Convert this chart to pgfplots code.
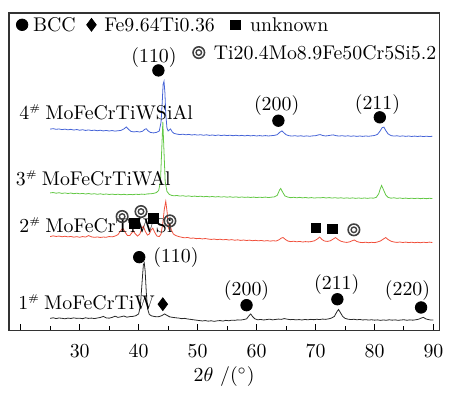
\documentclass[border=0pt]{standalone}
\usepackage{fontspec}
\usepackage{pgfplots}
\pgfplotsset{compat=1.18}
\definecolor{cblue}{RGB}{70,100,215}
\definecolor{cgreen}{RGB}{100,200,70}
\definecolor{cred}{RGB}{240,80,60}
\definecolor{cblack}{RGB}{40,40,40}
\newcommand\sh{\raisebox{0.95ex}{\fontsize{5}{6}\selectfont\#}\hspace{2.6pt}}
\begin{document}
\begin{tikzpicture}
\begin{axis}[
  scale only axis, width=217pt, height=160pt,
  xmin=18, xmax=91, ymin=0, ymax=320,
  xtick={30,40,...,90}, extra x ticks={20}, extra x tick labels={},
  minor xtick={25,35,...,85},
  ytick=\empty,
  xtick pos=left,
  tick align=inside,
  major tick length=3pt, minor tick length=2pt,
  axis line style={line width=0.7pt, black!80},
  every tick/.style={line width=0.5pt, black},
  xticklabel style={font=\normalsize, yshift=-3.5pt},
  xlabel={$2\theta$ /($^{\circ}$)},
  xlabel style={yshift=2pt},
  clip=false,
  every node/.style={inner sep=0pt},
]
% 1# black
\addplot[cblack, line width=0.4pt] coordinates {
(25,12.0)(25.5,12.6)(26,11.8)(26.5,12.4)(27,12.1)(27.5,11.6)(28,12.3)(28.5,11.9)(29,12.5)(29.5,12.0)
(30,12.2)(30.5,11.7)(31,12.6)(31.5,12.0)(32,12.3)(32.5,11.8)(33,12.4)(33.5,12.9)(34,14.0)(34.5,12.5)
(35,12.2)(35.5,13.0)(36,14.2)(36.5,13.0)(37,13.6)(37.5,14.4)(38,13.2)(38.5,13.8)(39,14.0)(39.5,14.6)
(40,16.5)(40.3,25)(40.6,50)(40.8,66)(40.95,68)(41.1,60)(41.3,38)(41.5,22)(41.8,16)(42.2,14.5)
(42.6,14.0)(43,13.6)(43.5,13.8)(44,15.0)(44.4,16.5)(44.8,15.0)(45.3,13.5)(45.8,13.0)(46.3,12.6)(46.8,12.3)
(47.3,11.7)(47.8,12.0)(48.3,11.4)(48.8,11.0)(49.3,10.6)(49.8,10.2)(50.3,9.8)(50.8,9.4)(51.3,9.8)(51.8,9.2)
(52.3,9.6)(52.8,9.0)(53.3,9.5)(53.8,9.8)(54.3,9.3)(54.8,10.0)(55.3,9.6)(55.8,10.2)(56.3,10.0)(56.8,10.5)
(57.3,10.3)(57.8,10.8)(58.3,11.5)(58.7,14.5)(59.0,16.5)(59.3,14.0)(59.7,11.6)(60.2,10.6)(60.7,10.9)(61.2,10.4)
(61.7,10.8)(62.2,11.2)(62.7,10.5)(63.2,10.9)(63.7,11.3)(64.2,11.0)(64.7,11.8)(65.2,11.2)(65.7,10.7)(66.2,10.9)
(66.7,10.5)(67.2,10.8)(67.7,10.4)(68.2,10.9)(68.7,10.6)(69.2,11.0)(69.7,10.7)(70.2,11.1)(70.7,10.8)(71.2,11.3)
(71.7,11.0)(72.2,11.5)(72.7,12.3)(73.2,14.0)(73.6,18.5)(73.9,21.0)(74.2,18.0)(74.6,14.0)(75.0,12.0)(75.5,11.2)
(76,10.8)(76.5,11.1)(77,10.6)(77.5,10.9)(78,10.4)(78.5,10.7)(79,10.3)(79.5,10.6)(80,10.2)(80.5,10.5)
(81,10.0)(81.5,10.4)(82,10.1)(82.5,10.6)(83,10.2)(83.5,10.5)(84,10.0)(84.5,10.4)(85,10.6)(85.5,10.1)
(86,10.5)(86.5,10.2)(87,10.6)(87.5,11.2)(88,12.5)(88.3,13.0)(88.7,11.5)(89,11.0)(89.5,10.4)(90,10.3)
};
% 2# red
\addplot[cred, line width=0.4pt] coordinates {
(25,94.5)(25.5,95.2)(26,94.6)(26.5,95.0)(27,94.3)(27.5,94.8)(28,94.2)(28.5,94.6)(29,93.9)(29.5,94.4)
(30,93.8)(30.5,94.5)(31,94.0)(31.5,95.5)(32,94.2)(32.5,93.7)(33,94.1)(33.5,93.6)(34,94.0)(34.5,93.8)
(35,94.5)(35.5,94.2)(36,95.0)(36.5,96.5)(36.9,100)(37.3,103)(37.7,99)(38.1,95.5)(38.5,95.5)(38.8,98)
(39.1,100)(39.4,97.5)(39.8,95)(40.2,97)(40.5,102)(40.8,105)(41.1,100)(41.5,96)(41.8,97)(42.1,101)
(42.4,103)(42.7,99)(43.1,95)(43.5,94.5)(43.8,97)(44.1,108)(44.35,122)(44.6,130)(44.85,118)(45.05,103)
(45.3,107)(45.55,101)(45.9,97)(46.3,95.5)(46.8,94.5)(47.3,93.8)(47.8,93.2)(48.3,93.6)(48.8,92.8)(49.3,93.0)
(49.8,92.4)(50.3,92.7)(50.8,92.1)(51.3,92.5)(51.8,92.0)(52.3,91.6)(52.8,92.0)(53.3,91.4)(53.8,91.8)(54.3,91.2)
(54.8,91.6)(55.3,91.0)(55.8,91.4)(56.3,90.8)(56.8,91.2)(57.3,90.6)(57.8,91.0)(58.3,90.5)(58.8,90.9)(59.3,90.3)
(59.8,90.7)(60.3,90.2)(60.8,90.6)(61.3,90.0)(61.8,90.4)(62.3,89.9)(62.8,90.3)(63.3,90.0)(63.8,91.2)(64.2,93.0)
(64.5,93.5)(64.9,91.5)(65.3,90.0)(65.8,89.4)(66.3,89.8)(66.8,89.2)(67.3,89.6)(67.8,89.0)(68.3,89.4)(68.8,89.1)
(69.3,89.5)(69.8,90.2)(70.3,92.0)(70.7,94.0)(71.1,91.5)(71.5,90.0)(72,89.6)(72.5,90.2)(73.0,92.0)(73.4,93.5)
(73.8,91.5)(74.3,89.8)(74.8,89.0)(75.3,88.6)(75.8,89.2)(76.3,90.5)(76.6,91.0)(77.0,89.5)(77.5,88.7)(78,88.4)
(78.5,88.8)(79,88.3)(79.5,88.7)(80,88.4)(80.5,89.0)(81.0,90.0)(81.5,92.0)(81.9,93.5)(82.3,91.5)(82.8,89.8)
(83.3,89.0)(83.8,88.6)(84.3,89.0)(84.8,88.5)(85.3,88.9)(85.8,88.4)(86.3,88.8)(86.8,88.3)(87.3,88.7)(87.8,88.3)
(88.3,88.8)(88.8,88.4)(89.3,88.9)(89.8,88.5)
};
% 3# green
\addplot[cgreen, line width=0.4pt] coordinates {
(25,138.5)(25.5,138.9)(26,138.2)(26.5,138.7)(27,138.0)(27.5,138.5)(28,137.9)(28.5,138.4)(29,137.7)(29.5,138.2)
(30,137.6)(30.5,138.0)(31,137.4)(31.5,137.9)(32,137.3)(32.5,137.7)(33,137.1)(33.5,137.6)(34,137.0)(34.5,137.4)
(35,136.9)(35.5,137.3)(36,136.8)(36.5,137.2)(37,136.7)(37.5,137.1)(38,136.6)(38.5,137.0)(39,136.7)(39.5,137.2)
(40,136.9)(40.5,137.3)(41,137.0)(41.5,137.5)(42,137.6)(42.5,138.0)(43,138.8)(43.4,141)(43.7,150)(43.9,180)
(44.1,210)(44.3,180)(44.5,150)(44.8,140)(45.2,137)(45.6,136.0)(46,135.6)(46.5,135.9)(47,135.3)(47.5,135.7)
(48,135.1)(48.5,135.5)(49,134.9)(49.5,135.3)(50,134.8)(50.5,135.2)(51,134.6)(51.5,135.0)(52,134.5)(52.5,134.9)
(53,134.4)(53.5,134.8)(54,134.3)(54.5,134.7)(55,134.2)(55.5,134.6)(56,134.1)(56.5,134.5)(57,134.0)(57.5,134.4)
(58,134.0)(58.5,134.3)(59,133.9)(59.5,134.3)(60,133.8)(60.5,134.2)(61,133.9)(61.5,134.3)(62,133.8)(62.5,134.2)
(63,134.5)(63.5,136.0)(63.9,141.5)(64.1,143)(64.4,139.5)(64.8,135.5)(65.3,134.3)(65.8,133.7)(66.3,134.1)(66.8,133.6)
(67.3,134.0)(67.8,133.5)(68.3,133.9)(68.8,133.4)(69.3,133.8)(69.8,133.3)(70.3,133.7)(70.8,133.5)(71.3,133.9)(71.8,133.4)
(72.3,133.8)(72.8,133.3)(73.3,133.7)(73.8,133.2)(74.3,133.6)(74.8,133.1)(75.3,133.5)(75.8,133.1)(76.3,133.5)(76.8,133.0)
(77.3,133.4)(77.8,133.0)(78.3,133.4)(78.8,133.0)(79.3,133.4)(79.8,133.2)(80.3,134.0)(80.7,137.5)(81.0,143)(81.2,146)
(81.5,142)(81.9,136.5)(82.3,134.0)(82.8,133.2)(83.3,133.6)(83.8,133.0)(84.3,133.4)(84.8,132.9)(85.3,133.3)(85.8,132.8)
(86.3,133.2)(86.8,132.8)(87.3,133.2)(87.8,132.7)(88.3,133.1)(88.8,132.7)(89.3,133.1)(89.8,132.8)
};
% 4# blue
\addplot[cblue, line width=0.4pt] coordinates {
(25,202.8)(25.5,203.3)(26,202.6)(26.5,203.0)(27,202.3)(27.5,202.8)(28,202.1)(28.5,202.6)(29,201.9)(29.5,202.4)
(30,201.7)(30.5,202.2)(31,201.5)(31.5,202.0)(32,201.4)(32.5,201.8)(33,201.2)(33.5,201.7)(34,201.0)(34.5,201.5)
(35,200.9)(35.5,201.4)(36,200.8)(36.5,201.2)(37,201.5)(37.5,203.0)(37.9,205.0)(38.3,202.5)(38.7,200.5)(39.2,200.0)
(39.7,200.4)(40.2,199.9)(40.7,200.8)(41.0,202.5)(41.3,203.2)(41.6,201.0)(42.0,199.5)(42.5,199.0)(43.0,199.5)(43.5,201)
(43.8,210)(44.0,230)(44.15,248)(44.3,251)(44.45,240)(44.6,218)(44.8,204)(45.0,201)(45.2,202)(45.4,203)
(45.7,200)(46.0,198.5)(46.5,197.8)(47,197.3)(47.5,197.7)(48,197.1)(48.5,197.5)(49,196.9)(49.5,197.3)(50,196.8)
(50.5,197.2)(51,196.6)(51.5,197.1)(52,196.5)(52.5,196.9)(53,196.4)(53.5,196.9)(54,196.3)(54.5,196.8)(55,196.3)
(55.5,196.7)(56,196.2)(56.5,196.6)(57,196.1)(57.5,196.5)(58,196.0)(58.5,196.5)(59,196.0)(59.5,196.4)(60,195.9)
(60.5,196.3)(61,195.9)(61.5,196.3)(62,195.9)(62.5,196.2)(63,196.5)(63.5,197.2)(63.9,199.5)(64.3,201)(64.6,199.3)
(65.0,197.2)(65.5,196.2)(66,195.8)(66.5,196.2)(67,195.7)(67.5,196.1)(68,195.6)(68.5,196.0)(69,195.6)(69.5,196.0)
(70,196.2)(70.5,197.0)(70.8,197.3)(71.2,196.4)(71.7,195.9)(72.2,196.3)(72.7,196.8)(73.0,197.0)(73.5,196.2)(74,195.8)
(74.5,196.2)(75,195.7)(75.5,196.1)(76,195.6)(76.5,196.0)(77,195.5)(77.5,195.9)(78,195.5)(78.5,195.9)(79,195.6)
(79.5,196.0)(80,196.4)(80.5,197.5)(80.9,200.5)(81.3,204.3)(81.6,204.8)(81.9,201.5)(82.3,198.0)(82.8,196.3)(83.3,195.8)
(83.8,196.1)(84.3,195.6)(84.8,196.0)(85.3,195.5)(85.8,195.9)(86.3,195.4)(86.8,195.8)(87.3,195.4)(87.8,195.8)(88.3,195.3)
(88.8,195.7)(89.3,195.3)(89.8,195.6)
};
% BCC dots
\addplot[only marks, mark=*, mark size=2.9pt, black] coordinates {
(20.24,308)(43.35,262)(63.7,211.3)(80.9,214.7)(40.1,73.7)(58.3,25.3)(73.7,31.3)(87.9,23)};
% diamonds
\addplot[only marks, mark=diamond*, mark size=3.2pt, black] coordinates {(32.0,308)(44.1,26.3)};
% squares
\addplot[only marks, mark=square*, mark size=2.4pt, black] coordinates {
(56.4,308)(39.3,108)(42.5,113)(70.1,103)(72.9,102.3)};
% double circles
\addplot[only marks, mark=o, mark size=2.9pt, black!75, mark options={line width=0.8pt}] coordinates {
(50.2,280)(37.2,114.7)(40.4,119.7)(45.3,110.3)(76.5,101.3)};
\addplot[only marks, mark=o, mark size=1.4pt, black!75, mark options={line width=0.7pt}] coordinates {
(50.2,280)(37.2,114.7)(40.4,119.7)(45.3,110.3)(76.5,101.3)};
% texts
\node[anchor=west] at (axis cs:20.9,308) {BCC};
\node[anchor=west] at (axis cs:33.0,308) {Fe9.64Ti0.36};
\node[anchor=west] at (axis cs:57.7,308) {unknown};
\node[anchor=west] at (axis cs:51.55,280) {Ti20.4Mo8.9Fe50Cr5Si5.2};
\node at (axis cs:42.6,274.7) {(110)};
\node at (axis cs:63.4,226.3) {(200)};
\node at (axis cs:80.5,228) {(211)};
\node[anchor=west] at (axis cs:41.3,73.7) {(110)};
\node at (axis cs:58.3,39.7) {(200)};
\node at (axis cs:73.6,45.7) {(211)};
\node at (axis cs:85.6,39.7) {(220)};
\node[anchor=west] at (axis cs:18.6,219.7) {4\sh MoFeCrTiWSiAl};
\node[anchor=west] at (axis cs:18.0,153) {3\sh MoFeCrTiWAl};
\node[anchor=west] at (axis cs:18.6,106.3) {2\sh MoFeCrTiWSi};
\node[anchor=west] at (axis cs:18.4,28) {1\sh MoFeCrTiW};
\end{axis}
\path (current axis.south west) ++(-4.5pt,-23pt) (current axis.north east) ++(3.5pt,6.5pt);
\end{tikzpicture}
\end{document}
